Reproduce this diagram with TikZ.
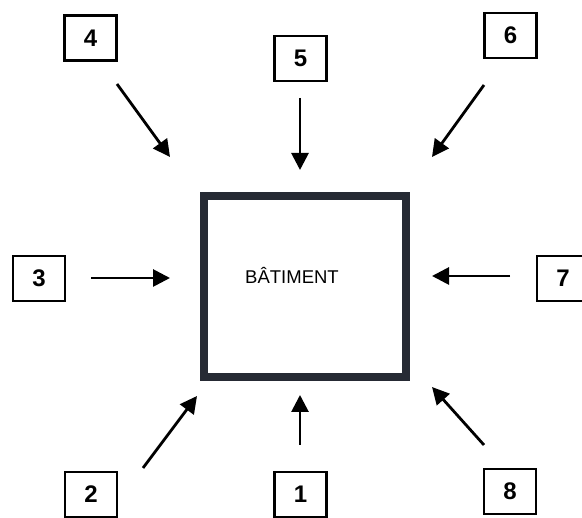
\documentclass[tikz,border=0pt]{standalone}
\usepackage{fontspec}
\setmainfont{Liberation Sans}
\usetikzlibrary{arrows.meta}
\definecolor{wallcol}{RGB}{38,42,52}
\begin{document}
\begin{tikzpicture}[x=1pt,y=-1pt,
  numbox/.style={draw=black,line width=2.5pt,minimum width=52pt,minimum height=45pt,inner sep=0pt,font=\fontsize{24}{27}\selectfont\bfseries},
  inarrow/.style={line width=2.8pt,-{Triangle[length=17pt,width=17pt]}},
  building/.style={draw=wallcol,line width=7.5pt,minimum width=202pt,minimum height=181pt,inner sep=0pt}]
\useasboundingbox (0,0) rectangle (582,518);
\clip (0,0) rectangle (582,518);
\node[building] (bat) at (305,286.5) {};
\node[font=\fontsize{18.5}{21}\selectfont] (lab) at (292,275) {BÂTIMENT};
\node[numbox] (n1) at (300.5,494.5) {1};
\node[numbox] (n2) at (91,494.5) {2};
\node[numbox] (n3) at (39,278.5) {3};
\node[numbox] (n4) at (90.5,38) {4};
\node[numbox] (n5) at (300.5,58.5) {5};
\node[numbox] (n6) at (510.5,35.5) {6};
\node[numbox] (n7) at (563,278.5) {7};
\node[numbox] (n8) at (510,491.5) {8};
\coordinate (s1) at (300,445); \coordinate (e1) at (300,395);
\coordinate (s2) at (143,468); \coordinate (e2) at (197,396);
\coordinate (s3) at (91,278);  \coordinate (e3) at (170,278);
\coordinate (s4) at (117,84);  \coordinate (e4) at (170,157);
\coordinate (s5) at (300,98);  \coordinate (e5) at (300,170);
\coordinate (s6) at (484,85);  \coordinate (e6) at (432,157);
\coordinate (s7) at (510,276); \coordinate (e7) at (432,276);
\coordinate (s8) at (484,445); \coordinate (e8) at (432,387);
\foreach \i in {1,...,8} {\draw[inarrow] (s\i) -- (e\i);}
\end{tikzpicture}
\end{document}
